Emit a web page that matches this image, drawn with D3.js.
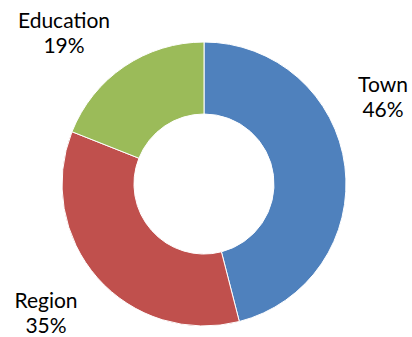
<!DOCTYPE html>
<html><head><meta charset="utf-8">
<script src="https://cdn.jsdelivr.net/npm/d3@7"></script>
<style>html,body{margin:0;padding:0;background:#fff;}</style>
</head><body>
<svg id="chart" width="412" height="337"></svg>
<script>
const categories = ["Town", "Region", "Education"];
const values = [46, 35, 19];
const colors = ["#4F81BD", "#C0504D", "#9BBB59"];
const labelPos = [[383, 92], [46, 308], [64, 28]];

const svg = d3.select("#chart");
const cx = 204, cy = 184, rOuter = 142, rInner = 70;
const pie = d3.pie().sort(null).value(d => d)(values);
const arc = d3.arc().innerRadius(rInner).outerRadius(rOuter);
const g = svg.append("g").attr("transform", `translate(${cx},${cy})`);
g.selectAll("path").data(pie).join("path")
  .attr("d", arc)
  .attr("fill", (d, i) => colors[i])
  .attr("stroke", "#fff").attr("stroke-width", 1);

const total = d3.sum(values);
const lab = svg.selectAll("text.lab").data(categories).join("text")
  .attr("class", "lab")
  .attr("text-anchor", "middle")
  .attr("font-family", "Lato, 'Noto Sans', sans-serif")
  .attr("font-size", 21)
  .attr("fill", "#000");
lab.append("tspan").attr("x", (d, i) => labelPos[i][0]).attr("y", (d, i) => labelPos[i][1]).text(d => d);
lab.append("tspan").attr("x", (d, i) => labelPos[i][0]).attr("y", (d, i) => labelPos[i][1] + 25)
  .text((d, i) => Math.round(values[i] / total * 100) + "%");
</script>
</body></html>
